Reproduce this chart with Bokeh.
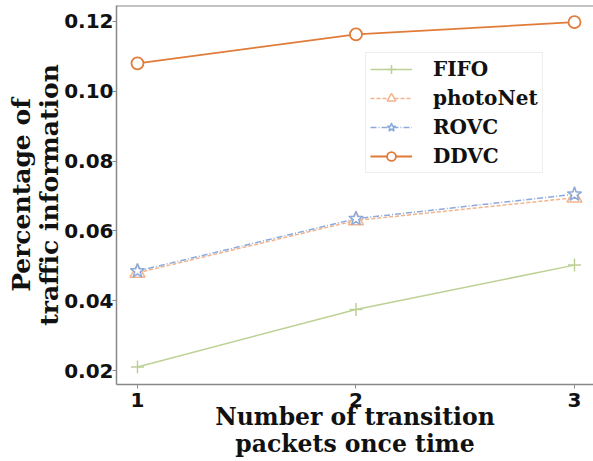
from bokeh.plotting import figure
from bokeh.models import Range1d, Legend, LegendItem, FixedTicker, Span
from bokeh.embed import file_html
from bokeh.resources import INLINE

x = [1, 2, 3]
fifo = [0.021, 0.0375, 0.0502]
photonet = [0.0480, 0.0630, 0.0695]
rovc = [0.0485, 0.0635, 0.0705]
ddvc = [0.1080, 0.1163, 0.1198]
x_ticks = [1, 2, 3]
y_ticks = [0.02, 0.04, 0.06, 0.08, 0.10, 0.12]
y_top = 0.12458

p = figure(width=593, height=461, output_backend="svg", toolbar_location=None,
           x_range=Range1d(0.904, 3.087), y_range=Range1d(0.016, y_top),
           min_border_left=116, min_border_right=0, min_border_top=5, min_border_bottom=77)
p.grid.visible = False
p.outline_line_color = None
p.background_fill_color = "white"
p.add_layout(Span(location=y_top, dimension="width", line_color="#888888", line_width=2))

for ax in (p.xaxis[0], p.yaxis[0]):
    ax.axis_line_color = "#888888"
    ax.axis_line_width = 1.5
    ax.major_tick_line_color = "#888888"
    ax.major_tick_in = 0
    ax.major_tick_out = 4
    ax.minor_tick_line_color = None
    ax.major_label_text_font = "DejaVu Sans"
    ax.major_label_text_font_style = "bold"
    ax.major_label_text_font_size = "20px"
    ax.major_label_text_color = "#111111"
    ax.axis_label_text_font = "DejaVu Serif"
    ax.axis_label_text_font_style = "bold"
    ax.axis_label_text_line_height = 0.97
    ax.axis_label_text_color = "#111111"

p.xaxis.axis_label_text_font_size = "23.5px"
p.yaxis.axis_label_text_font_size = "25px"
p.xaxis.ticker = FixedTicker(ticks=x_ticks)
p.yaxis.ticker = FixedTicker(ticks=y_ticks)
p.yaxis.major_label_overrides = {t: f"{t:.2f}" for t in y_ticks}
p.xaxis.major_label_standoff = 4
p.yaxis.major_label_standoff = -1
p.xaxis.axis_label = "Number of transition\npackets once time"
p.yaxis.axis_label = "Percentage of\ntraffic information"
p.xaxis.axis_label_standoff = -7
p.yaxis.axis_label_standoff = -3

c_fifo = "#bdd195"
c_photo = "#f3b48c"
c_rovc = "#8eaadb"
c_ddvc = "#e07b39"

l1 = p.line(x, fifo, line_color=c_fifo, line_width=1.5)
m1 = p.scatter(x, fifo, marker="cross", size=13, line_color=c_fifo, line_width=1.5)
l2 = p.line(x, photonet, line_color=c_photo, line_width=1.5, line_dash="4 2")
m2 = p.scatter(x, photonet, marker="triangle", size=15, line_color=c_photo, fill_color="white", line_width=1.5)
l3 = p.line(x, rovc, line_color=c_rovc, line_width=1.5, line_dash="6 2 1 2")
m3 = p.scatter(x, rovc, marker="star", size=15, line_color=c_rovc, fill_color="white", line_width=1.5)
l4 = p.line(x, ddvc, line_color=c_ddvc, line_width=1.8)
m4 = p.scatter(x, ddvc, marker="circle", size=12, line_color=c_ddvc, fill_color="white", line_width=1.8)

legend = Legend(items=[
    LegendItem(label="FIFO", renderers=[l1, m1]),
    LegendItem(label="photoNet", renderers=[l2, m2]),
    LegendItem(label="ROVC", renderers=[l3, m3]),
    LegendItem(label="DDVC", renderers=[l4, m4]),
], location=(249, 211))
legend.label_text_font = "DejaVu Serif"
legend.label_text_font_style = "bold"
legend.label_text_font_size = "20px"
legend.label_text_color = "#111111"
legend.glyph_width = 42
legend.glyph_height = 22
legend.label_height = 22
legend.spacing = 5
legend.label_standoff = 21
legend.padding = 4
legend.margin = 0
legend.border_line_color = "#dddddd"
legend.border_line_width = 1
legend.background_fill_alpha = 0.8
p.add_layout(legend, "center")

open("out.html", "w").write(file_html(p, INLINE))
